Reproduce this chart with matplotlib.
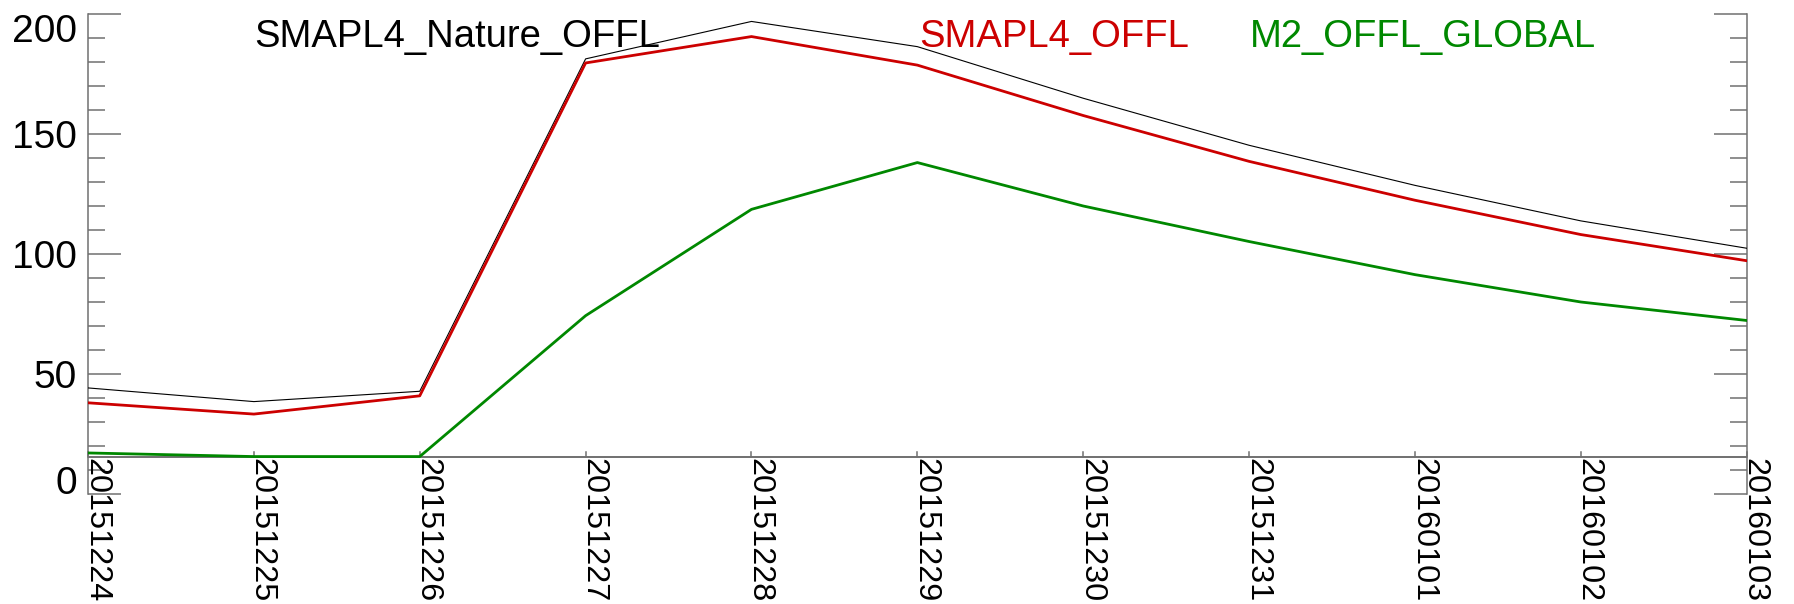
import matplotlib
matplotlib.use('Agg')
import matplotlib.pyplot as plt
from matplotlib.ticker import MultipleLocator

# 날짜 (x축)
dates = ['20151224', '20151225', '20151226', '20151227', '20151228', '20151229',
         '20151230', '20151231', '20160101', '20160102', '20160103']

# 시리즈 값
nature_offl = [44.2, 38.5, 42.8, 181.3, 196.9, 186.4, 164.9, 145.3, 128.6, 113.8, 102.4]
smapl4_offl = [38.0, 33.3, 40.9, 179.6, 190.6, 178.7, 157.7, 138.6, 122.4, 108.1, 97.2]
m2_offl_global = [17.1, 15.6, 15.6, 74.3, 118.6, 138.1, 120.0, 105.2, 91.4, 80.0, 72.3]

labels = ['SMAPL4_Nature_OFFL', 'SMAPL4_OFFL', 'M2_OFFL_GLOBAL']
colors = ['black', '#cc0000', '#008800']
y_ticks = [0, 50, 100, 150, 200]

plt.rcParams['font.family'] = ['Liberation Sans', 'DejaVu Sans']
axis_color = '#707070'

W, H = 1794, 604
fig = plt.figure(figsize=(W / 100, H / 100), dpi=100)
ax = fig.add_axes([88 / W, (H - 494) / H, (1746.7 - 88) / W, 480 / H])

x = list(range(len(dates)))
ax.plot(x, nature_offl, color=colors[0], lw=0.8, zorder=3)
ax.plot(x, smapl4_offl, color=colors[1], lw=2.0, zorder=3)
ax.plot(x, m2_offl_global, color=colors[2], lw=2.0, zorder=3)

ax.set_xlim(0, len(dates) - 1)
ax.set_ylim(0, 200)

# 축선: 좌우만, x축은 데이터 최소값 위치에 그림
for s in ['top', 'bottom']:
    ax.spines[s].set_visible(False)
for s in ['left', 'right']:
    ax.spines[s].set_color(axis_color)
    ax.spines[s].set_linewidth(1.1)
x_axis_y = min(m2_offl_global)
ax.axhline(x_axis_y, color=axis_color, lw=1.4, zorder=2)

# y축 눈금
ax.set_yticks(y_ticks)
ax.yaxis.set_minor_locator(MultipleLocator(10))
ax.tick_params(axis='y', which='both', direction='in', left=True, right=True,
               color=axis_color, width=1.1, labelsize=28, pad=8)
ax.tick_params(axis='y', which='major', length=23.8)
ax.tick_params(axis='y', which='minor', length=12.2)
ytl = ax.get_yticklabels()
ytl[0].set_va('baseline')
ytl[-1].set_va('top')

# x축 눈금 (x축선 위의 짧은 눈금 + 세로 라벨)
ax.set_xticks([])
for i, d in enumerate(dates):
    ax.plot([i, i], [x_axis_y, x_axis_y + 1.8], color=axis_color, lw=1.1,
            clip_on=False, zorder=2)
    ax.annotate(d, (i, x_axis_y), xytext=(0, -1), textcoords='offset points',
                rotation=270, rotation_mode='anchor', ha='left', va='baseline',
                fontsize=23.3, annotation_clip=False)

# 범례 텍스트
legend_x = [254, 919, 1250]
for lx, lab, c in zip(legend_x, labels, colors):
    fig.text(lx / W, (H - 47) / H, lab, color=c, fontsize=27.5, va='baseline')

fig.savefig('out.png', dpi=100)
